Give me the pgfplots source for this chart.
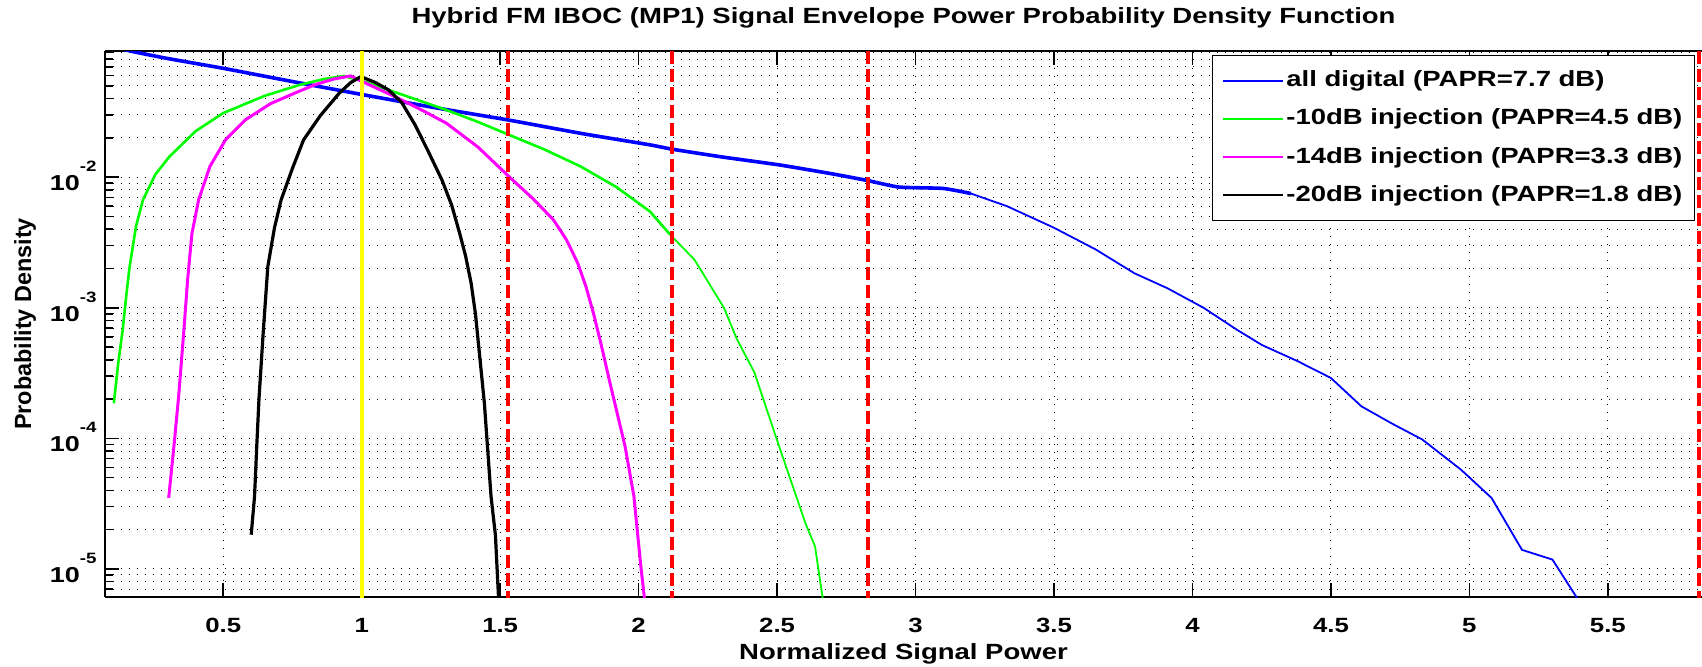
\documentclass[border=0pt]{standalone}
\usepackage{pgfplots}
\pgfplotsset{compat=1.18}
\usepackage{fontspec}
\setmainfont{Liberation Sans}[FakeStretch=1.25]
\newfontfamily\ylabfont{Liberation Sans}
\definecolor{mblue}{RGB}{0,0,255}
\definecolor{mgreen}{RGB}{0,255,0}
\definecolor{mmag}{RGB}{255,0,255}
\definecolor{myel}{RGB}{255,255,0}
\definecolor{mred}{RGB}{255,0,0}
\newcommand{\tenpow}[1]{10\raisebox{9.5pt}{\fontsize{7.5}{8}\selectfont\bfseries #1}}
\begin{document}
\begin{tikzpicture}
\begin{axis}[
  at={(0,0)}, anchor=south west,
  scale only axis, width=798.5pt, height=273pt,
  ymode=log,
  xmin=0.073, xmax=5.84, ymin=6.1e-6, ymax=0.0925,
  axis y line*=left,
  axis line style={line width=0.8pt, black},
  xtick={0.5,1,1.5,2,2.5,3,3.5,4,4.5,5,5.5},
  xticklabels={0.5,1,1.5,2,2.5,3,3.5,4,4.5,5,5.5},
  ytick={1e-5,1e-4,1e-3,1e-2},
  yticklabels={\tenpow{-5},\tenpow{-4},\tenpow{-3},\tenpow{-2}},
  minor ytick={7e-6,8e-6,9e-6,2e-5,3e-5,4e-5,5e-5,6e-5,7e-5,8e-5,9e-5,2e-4,3e-4,4e-4,5e-4,6e-4,7e-4,8e-4,9e-4,2e-3,3e-3,4e-3,5e-3,6e-3,7e-3,8e-3,9e-3,2e-2,3e-2,4e-2,5e-2,6e-2,7e-2,8e-2,9e-2},
  minor x tick num=0,
  tick align=inside,
  major tick length=7pt, minor tick length=4pt,
  tick style={line width=0.8pt, black},
  xmajorgrids, ymajorgrids, yminorgrids,
  grid style={black, line width=0.5pt, dash pattern=on 0.5pt off 3.5pt},
  major grid style={black, line width=0.5pt, dash pattern=on 0.5pt off 3.5pt},
  minor grid style={black, line width=0.5pt, dash pattern=on 0.5pt off 3.5pt},
  xticklabel style={font=\fontsize{10.3}{12}\selectfont\bfseries, anchor=base, inner sep=0pt, yshift=-17.5pt},
  yticklabel style={font=\fontsize{10.8}{12}\selectfont\bfseries, anchor=east, inner sep=0pt, xshift=-4pt, yshift=0.5pt},
  title={Hybrid FM IBOC (MP1) Signal Envelope Power Probability Density Function},
  title style={at={(axis description cs:0.5,1)}, anchor=base, yshift=7.8pt, inner sep=0pt, font=\fontsize{11}{13}\selectfont\bfseries},
  xlabel={Normalized Signal Power},
  xlabel style={at={(axis description cs:0.5,0)}, anchor=base, yshift=-31pt, inner sep=0pt, font=\fontsize{11}{13}\selectfont\bfseries},
  ylabel={Probability Density},
  ylabel style={at={([xshift=-40pt]axis description cs:0,0.5)}, anchor=center, inner sep=0pt, font=\ylabfont\fontsize{11.7}{13}\selectfont\bfseries},
  legend style={at={(axis description cs:1,1)}, anchor=north east, xshift=-3.5pt, yshift=-2pt,
    draw=black, line width=0.6pt, fill=white, inner xsep=5pt, inner ysep=6pt, row sep=6pt,
    font=\fontsize{11}{13}\selectfont\bfseries,
    nodes={inner sep=1pt, text height=8.5pt, text depth=2.6pt}},
  legend cell align=left,
  legend image code/.code={\draw[#1, line width=1pt] (0pt,0pt) -- (30pt,0pt);},
]
% all digital (thick part)
\addplot[mblue, line width=1.8pt, smooth, tension=0.3] table {
x y
0.10 0.100
0.18 0.0910
0.30 0.0810
0.50 0.0682
0.75 0.0540
1.00 0.0430
1.25 0.0345
1.53 0.0274
1.80 0.0215
2.04 0.0177
2.12 0.0164
2.30 0.0143
2.51 0.0124
2.70 0.0106
2.83 0.0094
2.94 0.0084
3.10 0.0082
3.20 0.0075
};
\addplot[mblue, line width=0.9pt, forget plot] table {
x y
3.20 0.0075
3.33 0.0060
3.50 0.0041
3.65 0.0028
3.79 0.00184
3.91 0.00141
4.04 0.00100
4.16 0.00068
4.25 0.00052
4.38 0.00039
4.50 0.00029
4.61 0.000176
4.72 0.000130
4.83 0.000098
4.97 0.0000575
5.08 0.000035
5.19 0.000014
5.30 0.0000118
5.40 0.0000055
};
% -10 dB injection
\addplot[mgreen, line width=1.3pt] table {
x y
0.105 0.000186
0.121 0.00038
0.137 0.00068
0.150 0.00125
0.162 0.00207
0.185 0.0042
0.21 0.0067
0.255 0.0105
0.306 0.0144
0.40 0.0225
0.50 0.031
0.65 0.042
0.774 0.0508
0.86 0.0562
0.935 0.0596
1.008 0.054
1.15 0.0426
1.306 0.0327
1.42 0.0265
1.532 0.0211
1.66 0.0163
1.79 0.0121
1.92 0.0084
2.041 0.00546
2.114 0.00363
};
\addplot[mgreen, line width=0.9pt, forget plot] table {
x y
2.114 0.00363
2.202 0.00233
2.308 0.00100
2.355 0.000575
2.418 0.00032
2.499 0.000098
2.602 0.0000225
2.637 0.0000149
2.67 0.000005
};
% -14 dB injection
\addplot[mmag, line width=1.5pt] table {
x y
0.303 0.000035
0.323 0.000092
0.339 0.00021
0.358 0.00068
0.372 0.0017
0.387 0.0037
0.411 0.0067
0.452 0.0121
0.508 0.0193
0.58 0.0275
0.67 0.0365
0.758 0.044
0.83 0.0510
0.90 0.0565
0.959 0.0596
1.008 0.0533
1.075 0.0458
1.145 0.039
1.225 0.0320
1.306 0.0259
1.42 0.0170
1.532 0.0101
1.62 0.0068
1.693 0.0047
1.74 0.0033
1.78 0.0022
1.81 0.00145
1.838 0.00089
1.865 0.00052
1.894 0.00028
1.951 0.000087
1.983 0.000036
2.007 0.000011
2.025 0.000005
};
% -20 dB injection
\addplot[black, line width=1.6pt] table {
x y
0.601 0.0000183
0.613 0.000036
0.621 0.000087
0.629 0.00020
0.645 0.00068
0.661 0.00207
0.685 0.0041
0.709 0.0067
0.75 0.0117
0.79 0.0193
0.85 0.0295
0.919 0.044
0.96 0.0530
0.997 0.0589
1.05 0.0530
1.097 0.0466
1.145 0.0372
1.193 0.0251
1.24 0.0158
1.29 0.0095
1.325 0.0061
1.354 0.0037
1.375 0.0025
1.395 0.00155
1.411 0.00089
1.443 0.000186
1.467 0.000036
1.483 0.000018
1.496 0.000005
};
% reference lines
\addplot[myel, line width=2pt, forget plot] coordinates {(1.0,6e-6) (1.0,0.1)};
\addplot[mred, line width=2pt, dash pattern=on 6.5pt off 2.5pt, forget plot] coordinates {(1.53,0.0925) (1.53,6e-6)};
\addplot[mred, line width=2pt, dash pattern=on 6.5pt off 2.5pt, forget plot] coordinates {(2.12,0.0925) (2.12,6e-6)};
\addplot[mred, line width=2pt, dash pattern=on 6.5pt off 2.5pt, forget plot] coordinates {(2.83,0.0925) (2.83,6e-6)};
\addplot[mred, line width=2pt, dash pattern=on 6.5pt off 2.5pt, forget plot] coordinates {(5.83,0.0925) (5.83,6e-6)};
\legend{all digital (PAPR=7.7 dB),-10dB injection (PAPR=4.5 dB),-14dB injection (PAPR=3.3 dB),-20dB injection (PAPR=1.8 dB)}
\end{axis}
\pgfresetboundingbox
\path (-52.5pt,-34.5pt) rectangle (798.5pt,298.5pt);
\end{tikzpicture}
\end{document}
